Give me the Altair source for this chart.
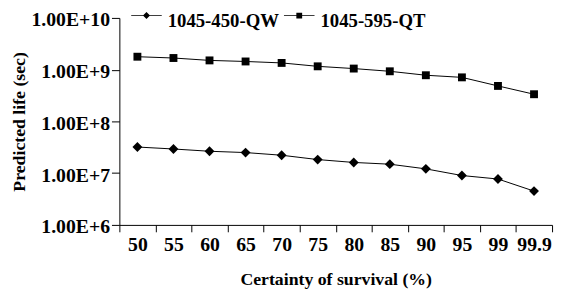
import altair as alt
import pandas as pd

certainty = ["50", "55", "60", "65", "70", "75", "80", "85", "90", "95", "99", "99.9"]
qw_life = [3.2e7, 2.93e7, 2.65e7, 2.5e7, 2.22e7, 1.83e7, 1.61e7, 1.49e7, 1.21e7, 9.0e6, 7.7e6, 4.5e6]
qt_life = [1.78e9, 1.68e9, 1.51e9, 1.44e9, 1.35e9, 1.16e9, 1.05e9, 9.3e8, 7.8e8, 7.1e8, 4.85e8, 3.35e8]
series_names = ["1045-450-QW", "1045-595-QT"]
y_ticks = [1e6, 1e7, 1e8, 1e9, 1e10]

rows = []
for name, vals in zip(series_names, [qw_life, qt_life]):
    for c, v in zip(certainty, vals):
        rows.append({"certainty": c, "life": v, "series": name})
df = pd.DataFrame(rows)

FONT = "Liberation Serif"

x_enc = alt.X("certainty:O", sort=certainty,
              scale=alt.Scale(paddingInner=0, paddingOuter=0),
              axis=alt.Axis(title="Certainty of survival (%)", labelAngle=0,
                            tickBand="extent", tickSize=7, labelPadding=3,
                            titlePadding=16))
y_enc = alt.Y("life:Q",
              scale=alt.Scale(type="log", domain=[1e6, 1e10]),
              axis=alt.Axis(title="Predicted life (sec)", values=y_ticks,
                            labelExpr="upper(format(datum.value, '.2e'))",
                            labelOffset=2,
                            tickSize=8, labelPadding=2, titlePadding=3))

base = alt.Chart(df)

lines = base.mark_line(color="black", strokeWidth=1).encode(
    x=x_enc, y=y_enc, detail="series:N")

points = base.mark_point(filled=True, color="black", opacity=1).encode(
    x=x_enc, y=y_enc,
    shape=alt.Shape("series:N", scale=alt.Scale(domain=series_names, range=["diamond", "square"]), legend=None),
    size=alt.Size("series:N", scale=alt.Scale(domain=series_names, range=[100, 64]), legend=None),
)

leg_paths = [
    "M-1,-0.36H1V-0.3H-1ZM0,-0.56L0.23,-0.33L0,-0.1L-0.23,-0.33Z",
    "M-1,-0.36H1V-0.3H-1ZM-0.19,-0.52H0.19V-0.14H-0.19Z",
]
legend_layer = base.mark_point(filled=True, color="black", opacity=0).encode(
    x=x_enc, y=y_enc,
    shape=alt.Shape("series:N",
                    scale=alt.Scale(domain=series_names, range=leg_paths),
                    legend=alt.Legend(title=None, orient="none", direction="horizontal",
                                      legendX=12, legendY=-13,
                                      symbolSize=961, symbolOpacity=1,
                                      symbolFillColor="black", symbolStrokeColor="black",
                                      symbolStrokeWidth=0, labelOffset=6,
                                      columnPadding=5, labelFont=FONT,
                                      labelFontSize=19, labelFontWeight="bold",
                                      labelColor="black", labelLimit=300)),
)

chart = alt.layer(lines, points, legend_layer).resolve_scale(
    shape="independent", size="independent"
).properties(
    width=439, height=210,
    autosize=alt.AutoSizeParams(type="none"),
    padding={"left": 113, "top": 8, "right": 4, "bottom": 65},
).configure_view(stroke=None).configure_axis(
    grid=False, domainColor="black", tickColor="black", labelColor="black",
    titleColor="black", labelFont=FONT, titleFont=FONT, labelFontSize=20,
    labelFontWeight="bold", titleFontSize=18, titleFontWeight="bold",
    domainWidth=1, tickWidth=1,
)

chart.save("out.html", embed_options={"renderer": "svg", "actions": False})
